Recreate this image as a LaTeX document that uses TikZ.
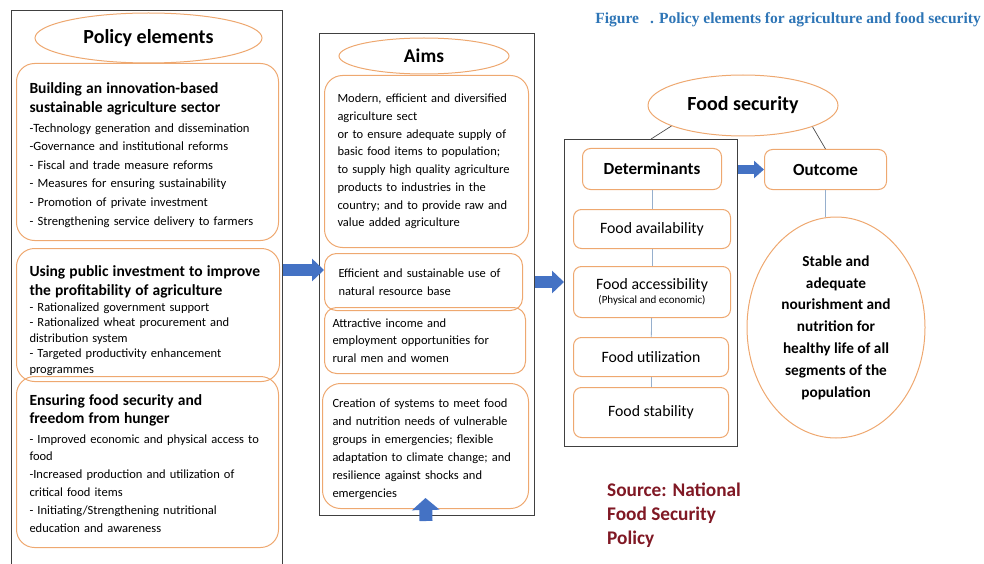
\documentclass[tikz,border=0pt]{standalone}
\usepackage{fontspec}
\setmainfont{Carlito}
\newfontfamily\titlefont{Liberation Serif}
\usetikzlibrary{shapes.geometric,arrows.meta,positioning}

\definecolor{boxorange}{RGB}{238,168,112}
\definecolor{arrowblue}{RGB}{68,114,196}
\definecolor{linkblue}{RGB}{150,175,205}
\definecolor{titleblue}{RGB}{46,117,182}
\definecolor{sourcered}{RGB}{128,24,36}

% heading font inside the policy boxes
\newcommand\hd{\bfseries\fontsize{15.5}{19}\selectfont}
% invisible strut that pushes a box's first line down
\newcommand\topgap[1]{\rule{0pt}{#1}}

\tikzset{
  frame/.style={draw=black!75, line width=1.1pt, anchor=north west, inner sep=0pt},
  pbox/.style={draw=boxorange, line width=1pt, rounded corners=18pt,
    anchor=north west, align=left, inner xsep=13pt, inner ysep=0pt},
  dbox/.style={draw=boxorange, line width=1pt, rounded corners=8pt, fill=white,
    anchor=north west, align=center, inner sep=0pt, font=\fontsize{15.8}{16}\selectfont},
  hdr/.style={ellipse, draw=boxorange, line width=1pt, fill=white, inner sep=0pt,
    font=\bfseries\fontsize{20}{22}\selectfont},
  fat/.style={draw=arrowblue, line width=12pt, -{Triangle[width=22pt,length=12pt]}},
  link/.style={draw=linkblue, line width=0.8pt},
  tie/.style={draw=black!70, line width=0.7pt}
}

\begin{document}
\begin{tikzpicture}[x=1pt,y=-1pt]
  \useasboundingbox (0,0) rectangle (984,564);
  \clip (0,0) rectangle (984,564);

  %% policy elements column
  \node[frame, minimum width=271pt, minimum height=600pt] (policy) at (11,10) {};
  \node[hdr, minimum width=227pt, minimum height=50pt] (polhead) at (148.5,38) {Policy elements};

  \node[pbox, minimum width=262pt, minimum height=177pt, text width=236pt,
    font=\fontsize{12.6}{18.6}\selectfont] (build) at (16,63) {%
    {\hd\topgap{17pt}Building an innovation-based\\ sustainable agriculture sector}\\[1pt]
    -Technology generation and dissemination\\
    -Governance and institutional reforms\\
    - Fiscal and trade measure reforms\\
    - Measures for ensuring sustainability\\
    - Promotion of private investment\\
    - Strengthening service delivery to farmers};

  \node[pbox, minimum width=263pt, minimum height=133pt, text width=237pt,
    font=\fontsize{12.5}{15.4}\selectfont] (profit) at (16,248) {%
    {\hd\topgap{22pt}Using public investment to improve\\[3pt] the profitability of agriculture}\\[1pt]
    - Rationalized government support\\
    - Rationalized wheat procurement and\\
    distribution system\\
    - Targeted productivity enhancement\\
    programmes};

  \node[pbox, minimum width=262pt, minimum height=171pt, text width=236pt,
    font=\fontsize{12.5}{17.8}\selectfont] (hunger) at (16,376) {%
    {\hd\topgap{13.5pt}Ensuring food security and\\ freedom from hunger}\\[2pt]
    - Improved economic and physical access to\\
    food\\
    -Increased production and utilization of\\
    critical food items\\
    - Initiating/Strengthening nutritional\\
    education and awareness};

  %% aims column
  \node[frame, minimum width=215pt, minimum height=482pt] (aims) at (319,33) {};
  \node[hdr, minimum width=170pt, minimum height=36pt, font=\bfseries\fontsize{19.4}{20}\selectfont]
    (aimshead) at (424,56) {Aims};

  \node[pbox, minimum width=204pt, minimum height=172pt, text width=178pt,
    font=\fontsize{12.5}{17.7}\selectfont] (modern) at (324,75) {%
    Modern, efficient and diversified\\
    agriculture sect\\
    or to ensure adequate supply of\\
    basic food items to population;\\
    to supply high quality agriculture\\
    products to industries in the\\
    country; and to provide raw and\\
    value added agriculture};

  \node[pbox, rounded corners=12pt, minimum width=198pt, minimum height=57pt, inner xsep=14pt,
    text width=170pt, font=\fontsize{12.5}{18}\selectfont] (effic) at (324,253) {%
    Efficient and sustainable use of\\
    natural resource base};

  \node[pbox, rounded corners=12pt, minimum width=201pt, minimum height=66pt, inner xsep=8pt,
    text width=185pt, font=\fontsize{12.5}{17.7}\selectfont] (income) at (324,307) {%
    Attractive income and\\
    employment opportunities for\\
    rural men and women};

  \node[pbox, minimum width=206pt, minimum height=125pt, inner xsep=10pt,
    text width=186pt, font=\fontsize{12.5}{18}\selectfont] (crisis) at (322,383) {%
    \topgap{15pt}Creation of systems to meet food\\
    and nutrition needs of vulnerable\\
    groups in emergencies; flexible\\
    adaptation to climate change; and\\
    resilience against shocks and\\
    emergencies};

  %% determinants and outcome
  \node[frame, minimum width=173pt, minimum height=307pt] (det) at (564,139) {};
  \node[dbox, minimum width=139pt, minimum height=41pt, font=\bfseries\fontsize{17}{18}\selectfont]
    (detbox) at (582,148) {Determinants};
  \node[dbox, minimum width=157pt, minimum height=39pt] (avail) at (573,209) {Food availability};
  \node[dbox, minimum width=157pt, minimum height=51pt] (access) at (573,266)
    {Food accessibility\\[-2pt] {\fontsize{11}{12}\selectfont (Physical and economic)}};
  \node[dbox, minimum width=155pt, minimum height=39pt] (util) at (573,337) {Food utilization};
  \node[dbox, minimum width=155pt, minimum height=50pt] (stab) at (573,387) {Food stability};

  \draw[link] (detbox) -- (avail);
  \draw[link] (avail) -- (access);
  \draw[link] (access) -- (util);
  \draw[link] (util) -- (stab);

  \node[hdr, minimum width=190pt, minimum height=61pt] (foodsec) at (743,105.5) {Food security};
  \node[dbox, minimum width=122pt, minimum height=40pt, font=\bfseries\fontsize{17}{18}\selectfont]
    (outcome) at (764,149) {Outcome};
  \node[ellipse, draw=boxorange, line width=1pt, inner sep=0pt, minimum width=178pt,
    minimum height=221pt, align=center, font=\bfseries\fontsize{15.3}{21.8}\selectfont]
    (stable) at (836,327.5) {Stable and\\ adequate\\ nourishment and\\ nutrition for\\
    healthy life of all\\ segments of the\\ population};

  \draw[tie] (foodsec.196) -- (det.north);
  \draw[tie] (foodsec.343) -- (outcome.north);
  \draw[link] (outcome) -- (outcome.south |- stable.north);

  %% block arrows
  \coordinate (polrow) at (0,270);
  \coordinate (aimrow) at (0,282);
  \coordinate (upbase) at (426,521);
  \draw[fat] (policy.east |- polrow) -- (effic.west |- polrow);
  \draw[fat] (aims.east |- aimrow) -- (det.west |- aimrow);
  \draw[fat, line width=9pt, -{Triangle[width=17pt,length=10pt]}] (det.east |- outcome.west) -- (outcome.west);
  \draw[fat, line width=13pt, -{Triangle[width=27pt,length=12pt]}] (upbase) -- ([yshift=11pt]crisis.south);

  %% caption and source
  \node[anchor=east, inner sep=0pt, text=titleblue, font=\titlefont\bfseries\fontsize{15.5}{18}\selectfont]
    (title) at (981,20) {Figure\hspace{11pt}. Policy elements for agriculture and food security};
  \node[anchor=north west, inner sep=0pt, align=left, text=sourcered,
    font=\bfseries\fontsize{19.3}{24}\selectfont] (source) at (607,483)
    {Source: National\\ Food Security\\ Policy};
\end{tikzpicture}
\end{document}
